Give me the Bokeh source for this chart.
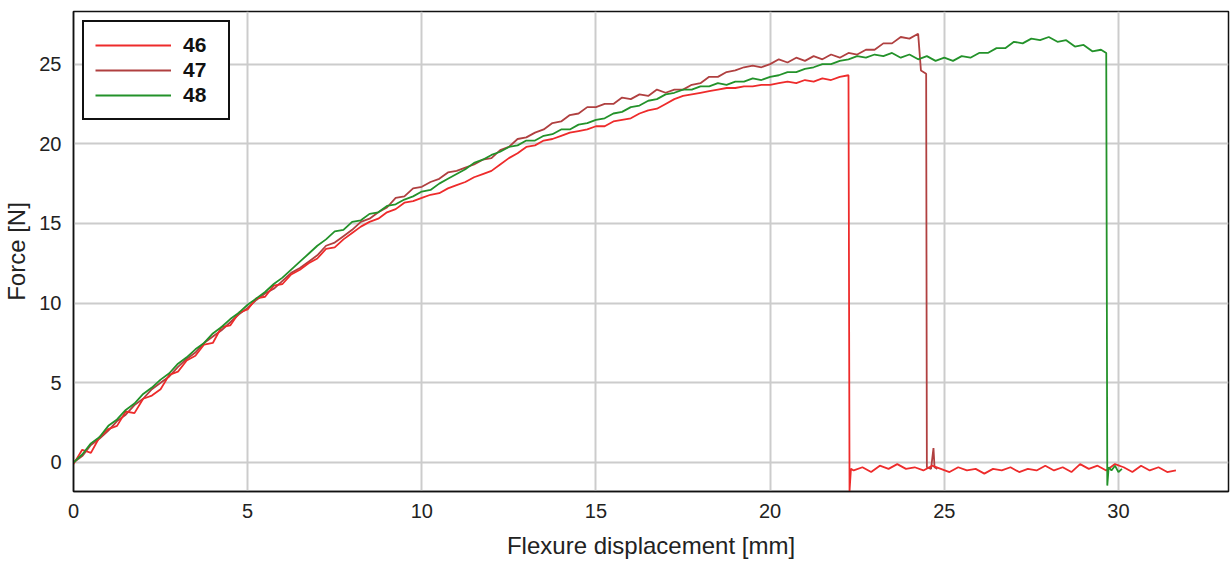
from bokeh.plotting import figure
from bokeh.models import Range1d, FixedTicker, Legend, LegendItem
from bokeh.embed import file_html
from bokeh.resources import INLINE

# ---------------- data ----------------
X_STEP = 0.25  # sampling step of the displacement (mm)

series_names = ["46", "47", "48"]

# sample 46: rising part sampled every X_STEP from 0 mm
s46_rise = [
    -0.1, 0.8, 0.6, 1.6, 2.1, 2.3, 3.2, 3.1, 4.0, 4.2,
    4.6, 5.5, 5.7, 6.4, 6.7, 7.4, 7.5, 8.5, 8.6, 9.4,
    9.6, 10.3, 10.4, 11.1, 11.2, 11.8, 12.1, 12.5, 12.8, 13.4,
    13.5, 14.0, 14.4, 14.8, 15.1, 15.3, 15.7, 15.9, 16.3, 16.4,
    16.6, 16.8, 16.9, 17.2, 17.4, 17.6, 17.9, 18.1, 18.3, 18.7,
    19.1, 19.4, 19.8, 19.9, 20.2, 20.3, 20.5, 20.7, 20.8, 20.9,
    21.1, 21.1, 21.4, 21.5, 21.6, 21.9, 22.1, 22.2, 22.5, 22.8,
    23.0, 23.1, 23.2, 23.3, 23.4, 23.5, 23.5, 23.6, 23.6, 23.7,
    23.7, 23.8, 23.9, 23.8, 24.0, 23.9, 24.1, 24.0, 24.2, 24.3,
]
s46_drop_x = [22.28, 22.32]
s46_drop_y = [-1.8, -0.4]
s46_base_x0 = 22.4
s46_base = [
    -0.5, -0.3, -0.6, -0.2, -0.4, -0.1, -0.4, -0.3, -0.5, -0.2,
    -0.4, -0.6, -0.3, -0.5, -0.4, -0.7, -0.4, -0.5, -0.3, -0.6,
    -0.4, -0.5, -0.2, -0.5, -0.3, -0.6, -0.1, -0.4, -0.2, -0.5,
    -0.1, -0.3, -0.6, -0.2, -0.5, -0.3, -0.6, -0.5,
]

# sample 47
s47_rise = [
    0.0, 0.4, 1.1, 1.5, 2.0, 2.6, 3.0, 3.6, 4.0, 4.6,
    5.0, 5.4, 6.0, 6.5, 6.9, 7.5, 7.9, 8.3, 8.8, 9.3,
    9.7, 10.2, 10.6, 10.9, 11.4, 11.9, 12.2, 12.6, 13.0, 13.6,
    13.8, 14.2, 14.6, 15.1, 15.3, 15.7, 16.0, 16.6, 16.7, 17.2,
    17.3, 17.6, 17.8, 18.2, 18.3, 18.5, 18.7, 19.0, 19.1, 19.6,
    19.8, 20.3, 20.4, 20.7, 20.9, 21.3, 21.4, 21.8, 21.9, 22.3,
    22.3, 22.5, 22.5, 22.9, 22.8, 23.1, 23.0, 23.4, 23.2, 23.4,
    23.4, 23.7, 23.8, 24.2, 24.2, 24.5, 24.6, 24.8, 24.9, 24.8,
    25.0, 25.3, 25.1, 25.4, 25.2, 25.5, 25.3, 25.6, 25.4, 25.7,
    25.6, 25.9, 25.9, 26.3, 26.3, 26.7, 26.6, 26.9,
]
s47_tail_x = [24.33, 24.48, 24.5, 24.62, 24.69, 24.72, 24.8]
s47_tail_y = [24.6, 24.4, -0.3, -0.4, 0.9, -0.3, -0.4]

# sample 48
s48_rise = [
    0.0, 0.5, 1.2, 1.6, 2.3, 2.7, 3.3, 3.7, 4.3, 4.7,
    5.2, 5.6, 6.2, 6.6, 7.1, 7.5, 8.1, 8.5, 9.0, 9.4,
    9.9, 10.3, 10.7, 11.2, 11.6, 12.1, 12.6, 13.1, 13.6, 14.0,
    14.5, 14.6, 15.1, 15.2, 15.6, 15.7, 16.1, 16.2, 16.5, 16.7,
    17.0, 17.1, 17.5, 17.8, 18.1, 18.4, 18.8, 19.0, 19.3, 19.5,
    19.8, 19.9, 20.2, 20.2, 20.5, 20.6, 20.9, 20.9, 21.2, 21.3,
    21.5, 21.6, 21.9, 22.0, 22.3, 22.4, 22.7, 22.8, 23.1, 23.2,
    23.4, 23.4, 23.6, 23.6, 23.8, 23.7, 23.9, 23.9, 24.1, 24.0,
    24.2, 24.3, 24.5, 24.5, 24.7, 24.8, 25.0, 25.0, 25.2, 25.3,
    25.5, 25.4, 25.6, 25.5, 25.7, 25.4, 25.6, 25.3, 25.5, 25.2,
    25.4, 25.2, 25.5, 25.4, 25.7, 25.7, 26.0, 26.0, 26.4, 26.3,
    26.6, 26.5, 26.7, 26.4, 26.5, 26.1, 26.2, 25.8, 25.9,
]
s48_tail_x = [29.65, 29.68, 29.72, 29.8, 29.9, 30.0, 30.1]
s48_tail_y = [25.7, -1.45, -0.3, -0.5, -0.2, -0.6, -0.4]

x_ticks = [0, 5, 10, 15, 20, 25, 30]
y_ticks = [0, 5, 10, 15, 20, 25]

# ---------------- assemble series ----------------
x46 = [i * X_STEP for i in range(len(s46_rise))] + s46_drop_x + \
      [s46_base_x0 + i * X_STEP for i in range(len(s46_base))]
y46 = s46_rise + s46_drop_y + s46_base
x47 = [i * X_STEP for i in range(len(s47_rise))] + s47_tail_x
y47 = s47_rise + s47_tail_y
x48 = [i * X_STEP for i in range(len(s48_rise))] + s48_tail_x
y48 = s48_rise + s48_tail_y

colors = {"46": "#ee2b2b", "47": "#b04040", "48": "#23922a"}
FONT = "Liberation Sans"

p = figure(width=1231, height=568, output_backend="svg", toolbar_location=None,
           x_range=Range1d(0, 33.16), y_range=Range1d(-1.82, 28.3),
           min_border_left=72, min_border_right=3, min_border_top=11,
           min_border_bottom=77)
p.background_fill_color = "white"
p.border_fill_color = "white"
p.outline_line_color = "#111111"
p.outline_line_width = 1.5

r47 = p.line(x47, y47, line_color=colors["47"], line_width=1.8)
r46 = p.line(x46, y46, line_color=colors["46"], line_width=1.8)
r48 = p.line(x48, y48, line_color=colors["48"], line_width=1.8)

for ax in (p.xaxis[0], p.yaxis[0]):
    ax.axis_line_color = "#111111"
    ax.axis_line_width = 1.5
    ax.major_tick_line_color = None
    ax.minor_tick_line_color = None
    ax.major_label_text_font = FONT
    ax.major_label_text_font_size = "20px"
    ax.major_label_text_color = "#222222"
    ax.axis_label_text_font = FONT
    ax.axis_label_text_font_size = "24px"
    ax.axis_label_text_font_style = "normal"
    ax.axis_label_text_color = "#222222"

p.xaxis.ticker = FixedTicker(ticks=x_ticks)
p.yaxis.ticker = FixedTicker(ticks=y_ticks)
p.xaxis.axis_label = "Flexure displacement [mm]"
p.yaxis.axis_label = "Force [N]"
p.xaxis.major_label_standoff = 6
p.yaxis.major_label_standoff = 6
p.xaxis.axis_label_standoff = 11
p.yaxis.axis_label_standoff = 6

p.xgrid.ticker = FixedTicker(ticks=x_ticks)
p.ygrid.ticker = FixedTicker(ticks=y_ticks)
p.grid.grid_line_color = "#cccccc"
p.grid.grid_line_width = 2

legend = Legend(items=[
    LegendItem(label=series_names[0], renderers=[r46]),
    LegendItem(label=series_names[1], renderers=[r47]),
    LegendItem(label=series_names[2], renderers=[r48]),
], location="top_left")
legend.margin = 9
legend.padding = 11
legend.spacing = 1
legend.glyph_width = 76
legend.glyph_height = 22
legend.label_standoff = 12
legend.label_width = 34
legend.label_text_font = FONT
legend.label_text_font_size = "21px"
legend.label_text_font_style = "bold"
legend.label_text_color = "#111111"
legend.border_line_color = "#111111"
legend.border_line_width = 2
legend.border_line_alpha = 1.0
legend.background_fill_color = "white"
legend.background_fill_alpha = 1.0
p.add_layout(legend)

open("out.html", "w").write(file_html(p, INLINE))
